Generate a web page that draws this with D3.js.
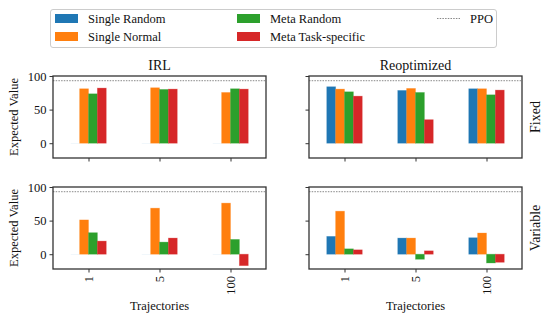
<!DOCTYPE html>
<html>
<head>
<meta charset="utf-8">
<script src="https://cdn.jsdelivr.net/npm/d3@7"></script>
<style>
  body { margin: 0; background: #fff; }
  svg text { font-family: "Liberation Serif", "Times New Roman", Times, serif !important; fill: #111; }
</style>
</head>
<body>
<svg id="vis" width="551" height="323" font-family="Liberation Serif"></svg>
<script>
let categories = ["1", "5", "100"];
let seriesNames = ["Single Random", "Single Normal", "Meta Random", "Meta Task-specific"];
let colors = ["#1f77b4", "#ff7f0e", "#2ca02c", "#d62728"];
let yTicks = [0, 50, 100];
let ppoValue = 93;

// values per series, one entry per category
let irlFixed = [
  [0, 0, 0],
  [81, 82.5, 75.5],
  [73.5, 80, 81],
  [82, 80.5, 80.5]
];
let reoptFixed = [
  [84, 78.5, 81],
  [80.5, 81.5, 81],
  [76.5, 75.5, 72],
  [70, 35, 79]
];
let irlVariable = [
  [0, 0, 0],
  [51, 68.5, 76],
  [32, 18, 22],
  [19.5, 24, -17]
];
let reoptVariable = [
  [26.5, 24, 24.5],
  [64, 24, 31.5],
  [8, -7.5, -13],
  [6.5, 5, -12]
];

let panels = [
  {data: irlFixed, x0: 53, y0: 76, title: "IRL", left: true},
  {data: reoptFixed, x0: 309, y0: 76, title: "Reoptimized", right: "Fixed"},
  {data: irlVariable, x0: 53, y0: 187, left: true, bottom: true},
  {data: reoptVariable, x0: 309, y0: 187, right: "Variable", bottom: true}
];

let svg = d3.select("#vis");
let pw = 213, ph = 82;
let serif = "Liberation Serif";

panels.forEach(function(p) {
  let g = svg.append("g").attr("transform", `translate(${p.x0},${p.y0})`);
  let x = d3.scaleLinear().domain([-0.5, 2.5]).range([0, pw]);
  let y = d3.scaleLinear().domain([-22, 100]).range([ph, 0]);
  let bw = 0.125;

  p.data.forEach(function(vals, si) {
    g.selectAll(null)
      .data(vals)
      .enter()
      .append("rect")
      .attr("x", (d, i) => x(i + (si - 2) * bw))
      .attr("width", x(bw) - x(0))
      .attr("y", d => y(Math.max(0, d)))
      .attr("height", d => Math.max(Math.abs(y(d) - y(0)), 0.8))
      .attr("fill", colors[si])
      .attr("fill-opacity", d => d == 0 ? 0.08 : 1)
      .attr("stroke", colors[si])
      .attr("stroke-opacity", d => d == 0 ? 0 : 0.35)
      .attr("stroke-width", 0.8);
  });

  g.append("line")
    .attr("x1", 0).attr("x2", pw)
    .attr("y1", y(ppoValue)).attr("y2", y(ppoValue))
    .attr("stroke", "#555")
    .attr("stroke-width", 0.7)
    .attr("stroke-dasharray", "1.5,1.2");

  let yAxis = d3.axisLeft(y).tickValues(yTicks).tickSize(3.5).tickPadding(3)
    .tickFormat(p.left ? d3.format("d") : "");
  let ya = g.append("g").call(yAxis).attr("font-family", serif);
  ya.select(".domain").remove();
  ya.selectAll("line").attr("stroke", "#333").attr("stroke-width", 1);
  ya.selectAll("text").style("font-size", "12.5px");

  let xa = g.append("g").attr("transform", `translate(0,${ph})`)
    .call(d3.axisBottom(x).tickValues([0, 1, 2]).tickSize(3.5).tickFormat(""));
  xa.select(".domain").remove();
  xa.selectAll("line").attr("stroke", "#333").attr("stroke-width", 1);

  if (p.bottom) {
    categories.forEach(function(c, i) {
      g.append("text")
        .attr("transform", `translate(${x(i) + 4.5},${ph + 7}) rotate(-90)`)
        .attr("text-anchor", "end")
        .style("font-size", "12.5px")
        .text(c);
    });
    g.append("text")
      .attr("x", pw / 2).attr("y", ph + 41)
      .attr("text-anchor", "middle")
      .style("font-size", "12.5px")
      .text("Trajectories");
  }

  g.append("rect")
    .attr("width", pw).attr("height", ph)
    .attr("fill", "none")
    .attr("stroke", "#333")
    .attr("stroke-width", 1.3);

  if (p.title) {
    g.append("text")
      .attr("x", pw / 2).attr("y", -6)
      .attr("text-anchor", "middle")
      .style("font-size", "14px")
      .text(p.title);
  }
  if (p.left) {
    g.append("text")
      .attr("transform", `translate(-35,${ph / 2}) rotate(-90)`)
      .attr("text-anchor", "middle")
      .style("font-size", "12.5px")
      .text("Expected Value");
  }
  if (p.right) {
    g.append("text")
      .attr("transform", `translate(${pw + 18},${ph / 2}) rotate(-90)`)
      .attr("text-anchor", "middle")
      .style("font-size", "14px")
      .text(p.right);
  }
});

// legend
let legend = svg.append("g");
legend.append("rect")
  .attr("x", 50.5).attr("y", 9.5).attr("width", 446).attr("height", 38)
  .attr("rx", 2.5)
  .attr("fill", "#fff")
  .attr("stroke", "#ccc")
  .attr("stroke-width", 1);

let legendPos = [[55, 14], [55, 32], [237, 14], [237, 32]];
seriesNames.forEach(function(name, i) {
  let pos = legendPos[i];
  legend.append("rect")
    .attr("x", pos[0]).attr("y", pos[1])
    .attr("width", 23).attr("height", 9)
    .attr("fill", colors[i]);
  legend.append("text")
    .attr("x", pos[0] + 33).attr("y", pos[1] + 9)
    .style("font-size", "12.5px")
    .text(name);
});
legend.append("line")
  .attr("x1", 437).attr("x2", 460).attr("y1", 18.5).attr("y2", 18.5)
  .attr("stroke", "#555").attr("stroke-width", 0.7)
  .attr("stroke-dasharray", "1.5,1.2");
legend.append("text")
  .attr("x", 470).attr("y", 23)
  .style("font-size", "12.5px")
  .text("PPO");
</script>
</body>
</html>
